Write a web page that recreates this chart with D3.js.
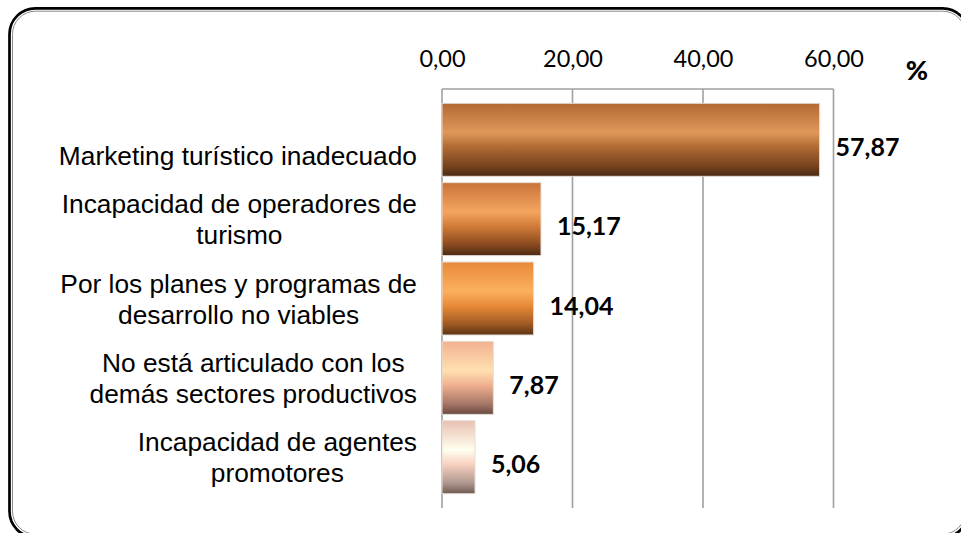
<!DOCTYPE html>
<html>
<head>
<meta charset="utf-8">
<script src="https://cdn.jsdelivr.net/npm/d3@7"></script>
<style>
  body { margin: 0; background: #fff; overflow: hidden; }
  svg { display: block; }
</style>
</head>
<body>
<div id="chart"></div>
<script>
// data
var categories = [
  ["Marketing turístico inadecuado"],
  ["Incapacidad de operadores de", "turismo"],
  ["Por los planes y programas de", "desarrollo no viables"],
  ["No está articulado con los", "demás sectores productivos"],
  ["Incapacidad de agentes", "promotores"]
];
var values = [57.87, 15.17, 14.04, 7.87, 5.06];
var ticks = [0, 20, 40, 60];
var unitLabel = "%";

// gradient stops for each bar (top -> bottom)
var barColors = [
  ["#b36a33", "#e0975a", "#b06a32", "#7a4520", "#4a2a12"],
  ["#c8733a", "#f5a55f", "#d07b38", "#8a4a1f", "#4a2a12"],
  ["#e8893a", "#fbb060", "#e88a38", "#a05a22", "#5a3415"],
  ["#f2b090", "#ffe0b0", "#f0b090", "#a87868", "#6a4a40"],
  ["#e8c0b0", "#fffff0", "#f8d0c0", "#b09890", "#705a50"]
];
var stopPos = [0, 0.4, 0.6, 0.85, 1];

var W = 961, H = 533;
var fmt = function(d) { return d.toFixed(2).replace(".", ","); };

var svg = d3.select("#chart").append("svg")
  .attr("width", W)
  .attr("height", H);

// frame (runs past the right and bottom edge of the picture)
svg.append("rect")
  .attr("x", 9.5).attr("y", 8.3)
  .attr("width", 959).attr("height", 529)
  .attr("rx", 26).attr("ry", 26)
  .attr("fill", "none")
  .attr("stroke", "#000")
  .attr("stroke-width", 2.7);
svg.append("rect")
  .attr("x", 12.5).attr("y", 11.2)
  .attr("width", 953).attr("height", 523)
  .attr("rx", 23).attr("ry", 23)
  .attr("fill", "none")
  .attr("stroke", "#8a8a8a")
  .attr("stroke-width", 1);

var x = d3.scaleLinear().domain([0, 60]).range([442, 833.5]);
var y = d3.scaleBand()
  .domain(d3.range(values.length))
  .range([89, 508])
  .paddingInner(0.08)
  .paddingOuter(0.18);

var defs = svg.append("defs");
barColors.forEach(function(cols, i) {
  var g = defs.append("linearGradient")
    .attr("id", "grad" + i)
    .attr("x1", 0).attr("y1", 0).attr("x2", 0).attr("y2", 1);
  cols.forEach(function(c, j) {
    g.append("stop").attr("offset", stopPos[j]).attr("stop-color", c);
  });
});

// gridlines
svg.append("g")
  .selectAll("line")
  .data(ticks)
  .enter()
  .append("line")
    .attr("x1", function(d) { return x(d); })
    .attr("x2", function(d) { return x(d); })
    .attr("y1", 89)
    .attr("y2", 508)
    .style("stroke", "#a0a0a0")
    .style("stroke-width", 1.6);

// top border of plot
svg.append("line")
  .attr("x1", x(0)).attr("x2", x(60))
  .attr("y1", 89).attr("y2", 89)
  .style("stroke", "#a0a0a0")
  .style("stroke-width", 1.6);

// top axis
var axis = svg.append("g")
  .attr("transform", "translate(0,67)")
  .call(d3.axisTop(x).tickValues(ticks).tickFormat(fmt).tickSize(0).tickPadding(0));
axis.select(".domain").remove();
axis.selectAll("text")
  .attr("y", 0)
  .attr("dy", 0)
  .style("font-family", "Lato, Carlito, Calibri, sans-serif")
  .style("font-size", "23.5px")
  .style("fill", "#000");

svg.append("text")
  .attr("x", 917)
  .attr("y", 80)
  .attr("text-anchor", "middle")
  .style("font-family", "Lato, Carlito, Calibri, sans-serif")
  .style("font-weight", "900")
  .style("font-size", "27px")
  .text(unitLabel);

// bars
svg.append("g")
  .selectAll("rect")
  .data(values)
  .enter()
  .append("rect")
    .attr("x", x(0))
    .attr("y", function(d, i) { return y(i); })
    .attr("width", function(d) { return x(d) - x(0); })
    .attr("height", y.bandwidth())
    .attr("fill", function(d, i) { return "url(#grad" + i + ")"; })
    .style("stroke", "#e6ddd6")
    .style("stroke-width", 1);

// value labels
svg.append("g")
  .selectAll("text")
  .data(values)
  .enter()
  .append("text")
    .attr("x", function(d) { return x(d) + 16; })
    .attr("y", function(d, i) { return y(i) + y.bandwidth() / 2 + 16; })
    .style("font-family", "Lato, Carlito, Calibri, sans-serif")
    .style("font-weight", "bold")
    .style("font-size", "25px")
    .text(fmt);

// category labels: block right-aligned at 417, lines centred in block
var lineH = 31;
categories.forEach(function(lines, i) {
  var cy = y(i) + y.bandwidth() / 2;
  var g = svg.append("g");
  var texts = g.selectAll("text")
    .data(lines)
    .enter()
    .append("text")
      .attr("y", function(d, j) { return cy + 25 - (lines.length - 1 - j) * lineH; })
      .attr("text-anchor", "middle")
      .style("font-family", "'Liberation Sans', Arial, sans-serif")
      .style("font-size", "26.3px")
      .style("fill", "#000")
      .text(function(d) { return d; });
  var wMax = 0;
  texts.each(function() { wMax = Math.max(wMax, this.getComputedTextLength()); });
  texts.attr("x", 417 - wMax / 2);
});
</script>
</body>
</html>
